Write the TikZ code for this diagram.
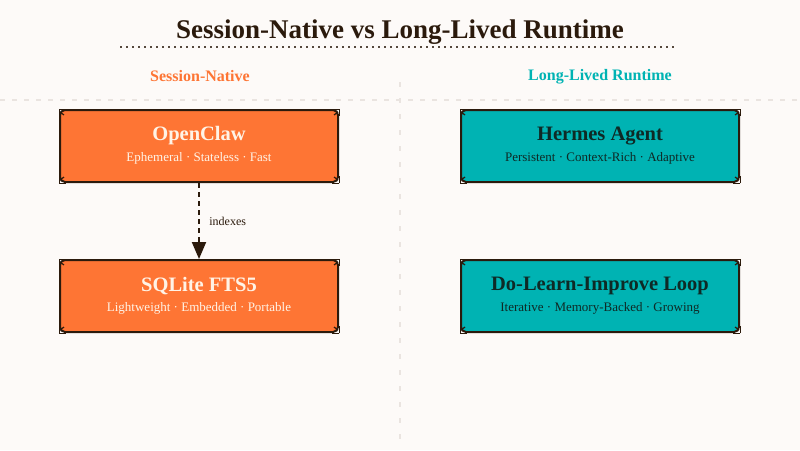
\documentclass[tikz,border=0pt]{standalone}
\usepackage{fontspec}
\setmainfont{Liberation Serif}
\usetikzlibrary{arrows.meta}

\definecolor{bgcream}{HTML}{FDFAF8}
\definecolor{inkbrown}{HTML}{2B1A0C}
\definecolor{clawor}{HTML}{FE7534}
\definecolor{hermteal}{HTML}{00B3B3}
\definecolor{gridgray}{HTML}{EAE4E0}
\definecolor{paleink}{HTML}{FFF3E6}
\definecolor{tealink}{HTML}{0E2A26}

\begin{document}
\begin{tikzpicture}[x=1pt, y=-1pt,
    box/.style={draw=inkbrown, line width=2pt, rounded corners=5pt,
        minimum width=278pt, minimum height=72pt, align=center, inner sep=0pt},
    headtext/.style={font=\fontsize{20.5}{22}\selectfont\bfseries},
    subtext/.style={font=\fontsize{13}{15}\selectfont}]
        \fill[bgcream] (0,0) rectangle (800,450);
        \useasboundingbox (0,0) rectangle (800,450);

        % grid
        \draw[gridgray, line width=1.5pt, dash pattern=on 5pt off 7pt] (0,100) -- (800,100);
        \draw[gridgray, line width=1.5pt, dash pattern=on 5pt off 11pt] (400,82) -- (400,450);

        % title
        \node[text=inkbrown, font=\fontsize{27}{29}\selectfont\bfseries] (title) at (400,32) {Session-Native vs Long-Lived Runtime};
        \draw[inkbrown!80, line width=1.5pt, dash pattern=on 2pt off 4pt] (120,47) -- (677,47);

        % column heads
        \node[text=clawor, font=\fontsize{16}{18}\selectfont\bfseries] (sesshead) at (200,76.5) {Session-Native};
        \node[text=hermteal, font=\fontsize{16}{18}\selectfont\bfseries] (longhead) at (600,76.5) {Long-Lived Runtime};

        % boxes
        \node[box, fill=clawor] (oc) at (199,146) {};
        \node[box, fill=clawor] (fts) at (199,296) {};
        \node[box, fill=hermteal] (ha) at (600,146) {};
        \node[box, fill=hermteal] (dli) at (600,296) {};

        \foreach \n in {oc,fts,ha,dli}{
            \draw[inkbrown, line width=1pt] (\n.north west) -- ++(0,7) (\n.north west) -- ++(7,0);
            \draw[inkbrown, line width=1pt] (\n.north east) -- ++(0,7) (\n.north east) -- ++(-7,0);
            \draw[inkbrown, line width=1pt] (\n.south west) -- ++(0,-7) (\n.south west) -- ++(7,0);
            \draw[inkbrown, line width=1pt] (\n.south east) -- ++(0,-7) (\n.south east) -- ++(-7,0);
            \draw[inkbrown, line width=1.2pt] ([shift={(1,3)}]\n.north west) -- ++(4,3);
            \draw[inkbrown, line width=1.2pt] ([shift={(-1,3)}]\n.north east) -- ++(-4,3);
            \draw[inkbrown, line width=1.2pt] ([shift={(1,-3)}]\n.south west) -- ++(4,-3);
            \draw[inkbrown, line width=1.2pt] ([shift={(-1,-3)}]\n.south east) -- ++(-4,-3);
        }

        % box texts
        \node[headtext, text=paleink] (octitle) at (199,136) {OpenClaw};
        \node[subtext, text=paleink] (ocsub) at (199,158) {Ephemeral · Stateless · Fast};
        \node[headtext, text=paleink] (ftstitle) at (199,286) {SQLite FTS5};
        \node[subtext, text=paleink] (ftssub) at (199,308) {Lightweight · Embedded · Portable};
        \node[headtext, text=tealink] (hatitle) at (600,136) {Hermes Agent};
        \node[subtext, text=tealink] (hasub) at (600,158) {Persistent · Context-Rich · Adaptive};
        \node[headtext, text=tealink] (dlititle) at (600,286) {Do-Learn-Improve Loop};
        \node[subtext, text=tealink] (dlisub) at (600,308) {Iterative · Memory-Backed · Growing};

        % arrow
        \draw[inkbrown, line width=2pt, dash pattern=on 5pt off 4pt, -{Triangle[width=14pt,length=17pt]}] (oc.south) -- (fts.north)
            node[midway, right=6pt, solid, text=inkbrown, font=\fontsize{12}{14}\selectfont] (idx) {indexes};
\end{tikzpicture}
\end{document}
